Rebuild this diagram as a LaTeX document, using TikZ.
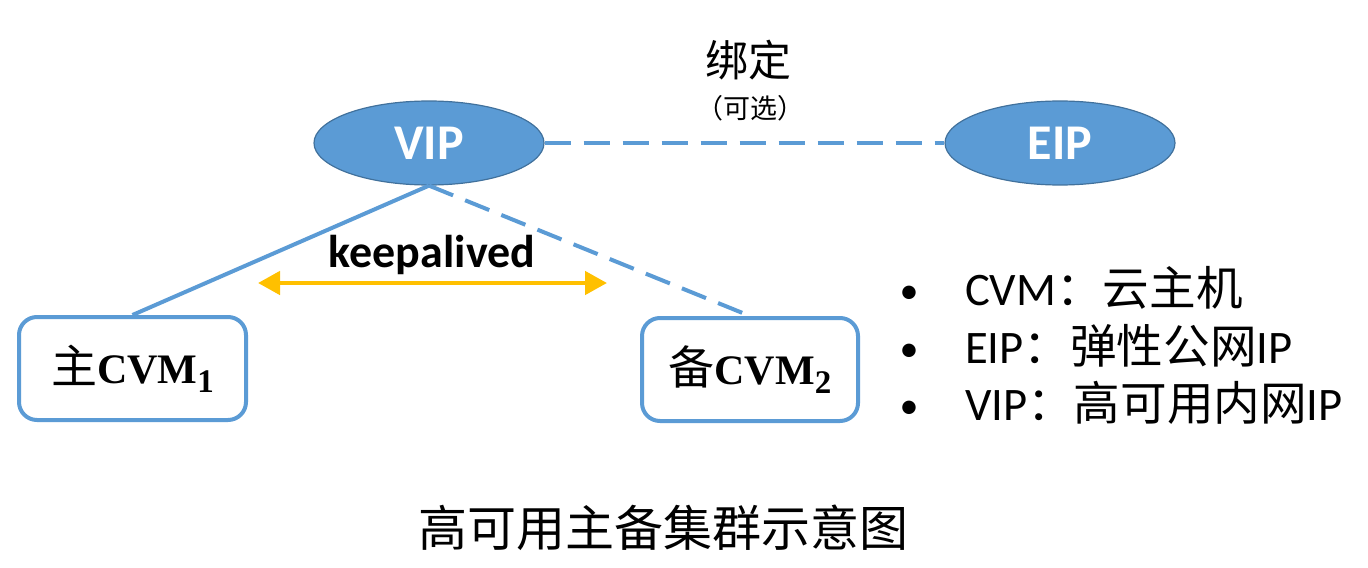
\documentclass[tikz,border=0pt]{standalone}
\usepackage{fontspec}
\setmainfont{Carlito}
\newfontfamily\cjk{Noto Sans CJK SC}
\newfontfamily\cvmserif{Liberation Serif}
\usetikzlibrary{shapes.geometric,arrows.meta}
\definecolor{ublue}{HTML}{5B9BD5}
\definecolor{uborder}{HTML}{41719C}
\definecolor{uorange}{HTML}{FFC000}
\newcommand{\cvmtext}[2]{{\cjk\fontsize{23}{23}\selectfont #1}{\cvmserif\bfseries\fontsize{21}{21}\selectfont CVM\raisebox{-4.5pt}{\fontsize{16.5}{16.5}\selectfont #2}}}
\begin{document}
\begin{tikzpicture}[x=0.5pt,y=-0.5pt,
  ipnode/.style={ellipse, fill=ublue, draw=uborder, line width=0.6pt, minimum width=115pt, minimum height=42pt, inner sep=0pt, text=white, font=\fontsize{25}{25}\selectfont\bfseries},
  cvmbox/.style={draw=ublue, line width=2pt, rounded corners=9pt, minimum height=51.5pt, inner sep=0pt, fill=white},
  link/.style={draw=ublue, line width=2pt},
  dashlink/.style={link, dash pattern=on 13pt off 6.5pt},
  legendtext/.style={anchor=base west, font=\fontsize{23.3}{23.3}\selectfont},
  bullettext/.style={anchor=base, font=\fontsize{19}{19}\selectfont}
]
\useasboundingbox (0,0) rectangle (1368,567);
\node[ipnode] (vip) at (429,143) {VIP};
\node[ipnode] (eip) at (1060,143) {EIP};
\node (bind) at (748,60) {\cjk\fontsize{21.5}{21.5}\selectfont 绑定};
\node (opt) at (750,108) {\cjk\fontsize{13.5}{13.5}\selectfont （可选）};
\node[cvmbox, minimum width=113.5pt] (cvm1) at (132.5,368.5) {\cvmtext{主}{1}};
\node[cvmbox, minimum width=108pt] (cvm2) at (750,369.5) {\cvmtext{备}{2}};
\draw[dashlink] (vip.east) -- (eip.west);
\draw[link] (vip.south) -- (cvm1.north);
\draw[dashlink] (vip.south) -- (cvm2.north);
\node[anchor=base, font=\fontsize{23}{23}\selectfont\bfseries] (ka) at (432,267) {keepalived};
\coordinate (ka1) at (258,283);
\coordinate (ka2) at (607,283);
\draw[draw=uorange, line width=2.3pt, {Triangle[length=11pt,width=11.5pt]}-{Triangle[length=11pt,width=11.5pt]}] (ka1) -- (ka2);
\node[bullettext] (b1) at (909,303) {•};
\node[bullettext] (b2) at (909,361) {•};
\node[bullettext] (b3) at (909,418) {•};
\node[legendtext] (l1) at (958,305) {CVM{\cjk ：云主机}};
\node[legendtext] (l2) at (958,363) {EIP{\cjk ：弹性公网}IP};
\node[legendtext] (l3) at (958,420) {VIP{\cjk ：高可用内网}IP};
\node[font=\cjk\fontsize{24.5}{24.5}\selectfont] (cap) at (663,528) {高可用主备集群示意图};
\end{tikzpicture}
\end{document}
